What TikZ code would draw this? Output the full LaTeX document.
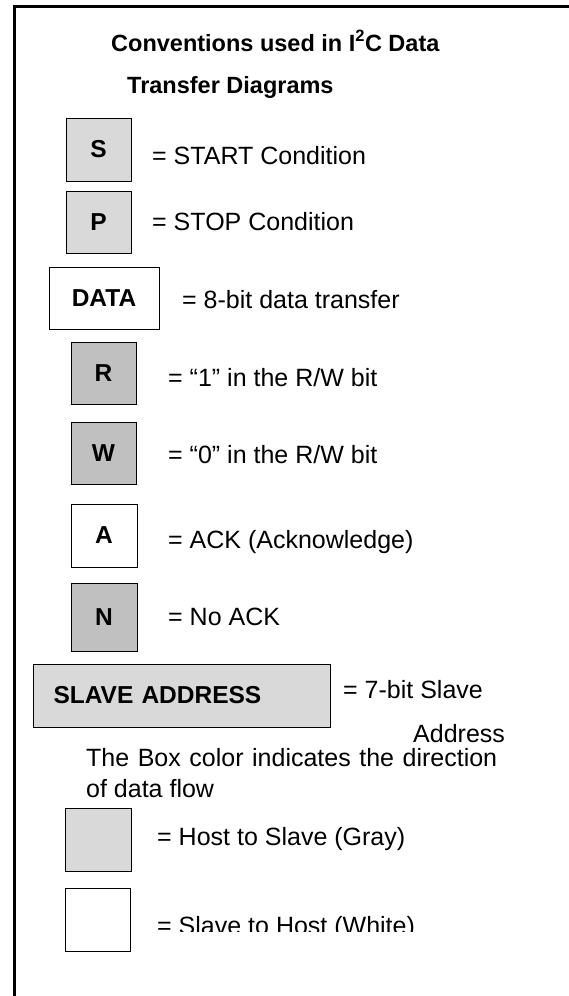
\documentclass[tikz,border=0pt]{standalone}
\usepackage{fontspec}
\setmainfont{Liberation Sans}
\definecolor{lgray}{HTML}{D9D9D9}
\definecolor{dgray}{HTML}{C0C0C0}

\begin{document}
\begin{tikzpicture}[x=1pt,y=-1pt,
  every node/.style={font=\fontsize{25}{29}\selectfont},
  sym/.style={draw=black, line width=1pt, inner sep=0pt, font=\fontsize{24.5}{28}\selectfont\bfseries},
  lightbox/.style={sym, fill=lgray},
  darkbox/.style={sym, fill=dgray},
  whitebox/.style={sym, fill=white},
  legend/.style={anchor=base west, inner sep=0pt}]

\useasboundingbox (0,0) rectangle (569,996);
\draw[line width=3.3pt] (14.3,1000)--(14.3,6.3)--(575,6.3); % le cadre

% titre
\node[legend, font=\fontsize{23.5}{28}\selectfont\bfseries] (title1) at (111,51) {Conventions used in I\textsuperscript{2}C Data};
\node[legend, font=\fontsize{23.5}{28}\selectfont\bfseries] (title2) at (127,93.5) {Transfer Diagrams};

% les symboles
\node[lightbox, minimum width=65pt, minimum height=63pt] (S) at (98.5,149.5) {S};
\node[lightbox, minimum width=65pt, minimum height=62pt] (P) at (98.5,222) {P};
\node[whitebox, minimum width=110pt, minimum height=62pt] (data) at (104,298) {DATA};
\node[darkbox, minimum width=65pt, minimum height=62pt] (R) at (103.5,373) {R};
\node[darkbox, minimum width=65pt, minimum height=62pt] (W) at (103.5,453) {W};
\node[whitebox, minimum width=66pt, minimum height=63pt] (A) at (104,535.5) {A};
\node[darkbox, minimum width=66pt, minimum height=68pt] (N) at (104,617) {N};
\node[lightbox, anchor=west, text width=257pt, align=left, inner xsep=20pt,
      minimum height=63pt] (slave) at (33,695.5) {SLAVE ADDRESS};
\node[lightbox, minimum width=66pt, minimum height=63pt] (host) at (98,839.5) {};
\node[whitebox, minimum width=65pt, minimum height=63pt] (white) at (97.5,919.5) {};

% les explications
\node[legend] (tS) at (152,164) {= START Condition};
\node[legend] (tP) at (152,230.5) {= STOP Condition};
\node[legend] (tdata) at (182,308) {= 8-bit data transfer};
\node[legend] (tR) at (168,386) {= “1” in the R/W bit};
\node[legend] (tW) at (168,463) {= “0” in the R/W bit};
\node[legend] (tA) at (168,548) {= ACK (Acknowledge)};
\node[legend] (tN) at (168,625) {= No ACK};
\node[legend] (tslave) at (343,698) {= 7-bit Slave};
\node[legend] (taddr) at (413,742) {Address};
\node[legend] (note1) at (86,766) {\makebox[411pt][s]{The Box color indicates the direction}};
\node[legend] (note2) at (86,797) {of data flow};
\node[legend] (thost) at (157,845) {= Host to Slave (Gray)};
\begin{scope}
  \clip (150,895) rectangle (569,931); % le texte est coupé en bas
  \node[legend] (twhite) at (157,934) {= Slave to Host (White)};
\end{scope}

\end{tikzpicture}
\end{document}
